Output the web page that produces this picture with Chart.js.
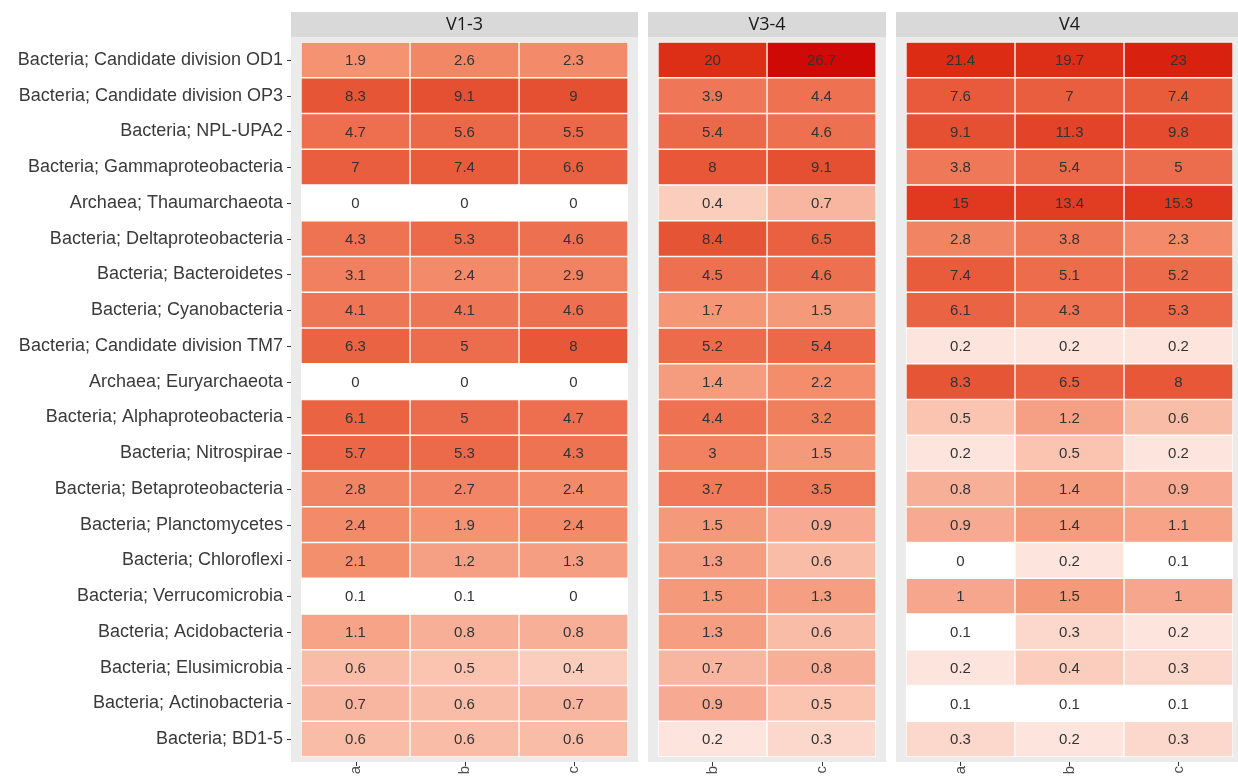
<!DOCTYPE html>
<html>
<head>
<meta charset="utf-8">
<script src="https://cdn.jsdelivr.net/npm/chart.js@4.4.1/dist/chart.umd.min.js"></script>
<style>
  html, body { margin: 0; padding: 0; background: #fff; }
  #heat { display: block; }
</style>
</head>
<body>
<canvas id="heat" width="1238" height="776"></canvas>
<script>
const taxa = [
  'Bacteria; Candidate division OD1',
  'Bacteria; Candidate division OP3',
  'Bacteria; NPL-UPA2',
  'Bacteria; Gammaproteobacteria',
  'Archaea; Thaumarchaeota',
  'Bacteria; Deltaproteobacteria',
  'Bacteria; Bacteroidetes',
  'Bacteria; Cyanobacteria',
  'Bacteria; Candidate division TM7',
  'Archaea; Euryarchaeota',
  'Bacteria; Alphaproteobacteria',
  'Bacteria; Nitrospirae',
  'Bacteria; Betaproteobacteria',
  'Bacteria; Planctomycetes',
  'Bacteria; Chloroflexi',
  'Bacteria; Verrucomicrobia',
  'Bacteria; Acidobacteria',
  'Bacteria; Elusimicrobia',
  'Bacteria; Actinobacteria',
  'Bacteria; BD1-5'
]
const facets = ['V1-3', 'V3-4', 'V4']
const samples = [['a', 'b', 'c'], ['b', 'c'], ['a', 'b', 'c']]

// relative abundance (%), one array per column, rows in taxa order
const v13a = [1.9, 8.3, 4.7, 7, 0, 4.3, 3.1, 4.1, 6.3, 0, 6.1, 5.7, 2.8, 2.4, 2.1, 0.1, 1.1, 0.6, 0.7, 0.6]
const v13b = [2.6, 9.1, 5.6, 7.4, 0, 5.3, 2.4, 4.1, 5, 0, 5, 5.3, 2.7, 1.9, 1.2, 0.1, 0.8, 0.5, 0.6, 0.6]
const v13c = [2.3, 9, 5.5, 6.6, 0, 4.6, 2.9, 4.6, 8, 0, 4.7, 4.3, 2.4, 2.4, 1.3, 0, 0.8, 0.4, 0.7, 0.6]
const v34b = [20, 3.9, 5.4, 8, 0.4, 8.4, 4.5, 1.7, 5.2, 1.4, 4.4, 3, 3.7, 1.5, 1.3, 1.5, 1.3, 0.7, 0.9, 0.2]
const v34c = [26.7, 4.4, 4.6, 9.1, 0.7, 6.5, 4.6, 1.5, 5.4, 2.2, 3.2, 1.5, 3.5, 0.9, 0.6, 1.3, 0.6, 0.8, 0.5, 0.3]
const v4a = [21.4, 7.6, 9.1, 3.8, 15, 2.8, 7.4, 6.1, 0.2, 8.3, 0.5, 0.2, 0.8, 0.9, 0, 1, 0.1, 0.2, 0.1, 0.3]
const v4b = [19.7, 7, 11.3, 5.4, 13.4, 3.8, 5.1, 4.3, 0.2, 6.5, 1.2, 0.5, 1.4, 1.4, 0.2, 1.5, 0.3, 0.4, 0.1, 0.2]
const v4c = [23, 7.4, 9.8, 5, 15.3, 2.3, 5.2, 5.3, 0.2, 8, 0.6, 0.2, 0.9, 1.1, 0.1, 1, 0.2, 0.3, 0.1, 0.3]
const columns = [[v13a, v13b, v13c], [v34b, v34c], [v4a, v4b, v4c]]

// log colour ramp, white at 0.1 up to red at the max
const stops = [
  [0, '#ffffff'], [0.12, '#fde6de'], [0.25, '#fbcdbd'], [0.41, '#f6a68c'],
  [0.54, '#f4906f'], [0.67, '#ee7454'], [0.77, '#e85c3c'], [0.84, '#e3452a'],
  [0.96, '#dc2c14'], [1, '#cf0a06']
]
function hex(c) { return [1, 3, 5].map(i => parseInt(c.substr(i, 2), 16)) }
function heat(v) {
  let t = v <= 0.1 ? 0 : Math.log(v / 0.1) / Math.log(267)
  t = Math.min(1, Math.max(0, t))
  for (let i = 1; i < stops.length; i++) {
    if (t <= stops[i][0]) {
      const f = (t - stops[i - 1][0]) / (stops[i][0] - stops[i - 1][0])
      const a = hex(stops[i - 1][1]), b = hex(stops[i][1])
      return 'rgb(' + a.map((c, k) => Math.round(c + (b[k] - c) * f)).join(',') + ')'
    }
  }
  return stops[stops.length - 1][1]
}

const GAP = 0.275
let datasets = [], tickPos = [], tickText = [], panels = []
let x = 0
facets.forEach((f, fi) => {
  const start = x
  samples[fi].forEach((s, si) => {
    const vals = columns[fi][si]
    const x0 = x
    datasets.push({
      label: f + ' ' + s,
      data: vals.map(() => [x0, x0 + 1]),
      values: vals,
      backgroundColor: vals.map(heat),
      borderColor: '#ffffff',
      borderWidth: 1,
      borderSkipped: false,
      grouped: false,
      barPercentage: 1,
      categoryPercentage: 1
    })
    tickPos.push(x0 + 0.5)
    tickText.push(s)
    x += 1
  })
  panels.push({ name: f, start: start, end: x })
  x += GAP
})
const xMax = x - GAP

const facetPlugin = {
  id: 'facets',
  beforeDatasetsDraw(chart) {
    const { ctx, chartArea: a, scales } = chart
    const xs = scales.x, ys = scales.y
    ctx.save()
    panels.forEach(p => {
      const l = xs.getPixelForValue(p.start) - 10
      const r = xs.getPixelForValue(p.end) + 10
      ctx.fillStyle = '#ebebeb'
      ctx.fillRect(l, a.top - 5, r - l, a.bottom - a.top + 10)
      ctx.fillStyle = '#d9d9d9'
      ctx.fillRect(l, a.top - 30, r - l, 25)
      ctx.fillStyle = '#1a1a1a'
      ctx.font = '18px "Open Sans"'
      ctx.textAlign = 'center'
      ctx.textBaseline = 'middle'
      ctx.fillText(p.name, (l + r) / 2, a.top - 17)
    })
    // little ggplot style tick marks outside the panels
    ctx.strokeStyle = '#333'
    ctx.lineWidth = 1
    ctx.beginPath()
    const left = xs.getPixelForValue(0) - 10
    taxa.forEach((t, i) => {
      const py = Math.round(ys.getPixelForValue(i)) + 0.5
      ctx.moveTo(left - 4, py)
      ctx.lineTo(left, py)
    })
    tickPos.forEach(v => {
      const px = Math.round(xs.getPixelForValue(v)) + 0.5
      ctx.moveTo(px, a.bottom + 5)
      ctx.lineTo(px, a.bottom + 9)
    })
    ctx.stroke()
    ctx.restore()
  },
  afterDatasetsDraw(chart) {
    const ctx = chart.ctx
    ctx.save()
    ctx.font = '15px "Liberation Sans", Arial, sans-serif'
    ctx.fillStyle = '#333'
    ctx.textAlign = 'center'
    ctx.textBaseline = 'middle'
    chart.data.datasets.forEach((ds, di) => {
      chart.getDatasetMeta(di).data.forEach((el, i) => {
        ctx.fillText(String(ds.values[i]), (el.x + el.base) / 2, el.y + 1)
      })
    })
    ctx.restore()
  }
}

const heatChart = new Chart(document.getElementById('heat'), {
  type: 'bar',
  data: { labels: taxa, datasets: datasets },
  plugins: [facetPlugin],
  options: {
    responsive: false,
    animation: false,
    indexAxis: 'y',
    layout: { padding: { top: 42, right: 5, bottom: 0, left: 0 } },
    plugins: {
      legend: { display: false },
      tooltip: { enabled: false }
    },
    scales: {
      x: {
        type: 'linear',
        min: 0,
        max: xMax,
        grid: { display: false, drawTicks: false },
        border: { display: false },
        afterBuildTicks: s => { s.ticks = tickPos.map(v => ({ value: v })) },
        afterFit: s => { s.height = 19 },
        ticks: {
          autoSkip: false,
          minRotation: 90,
          maxRotation: 90,
          padding: 9,
          color: '#4d4d4d',
          font: { family: '"Liberation Sans", Arial, sans-serif', size: 15 },
          callback: (v, i) => tickText[i]
        }
      },
      y: {
        type: 'category',
        grid: { display: true, drawOnChartArea: false, drawTicks: true, tickLength: 10, color: 'rgba(0,0,0,0)' },
        border: { display: false },
        afterFit: s => { s.width = 301 },
        ticks: {
          autoSkip: false,
          padding: 8,
          color: '#3a3a3a',
          font: { family: '"Liberation Sans", Arial, sans-serif', size: 18 }
        }
      }
    }
  }
})
</script>
</body>
</html>
